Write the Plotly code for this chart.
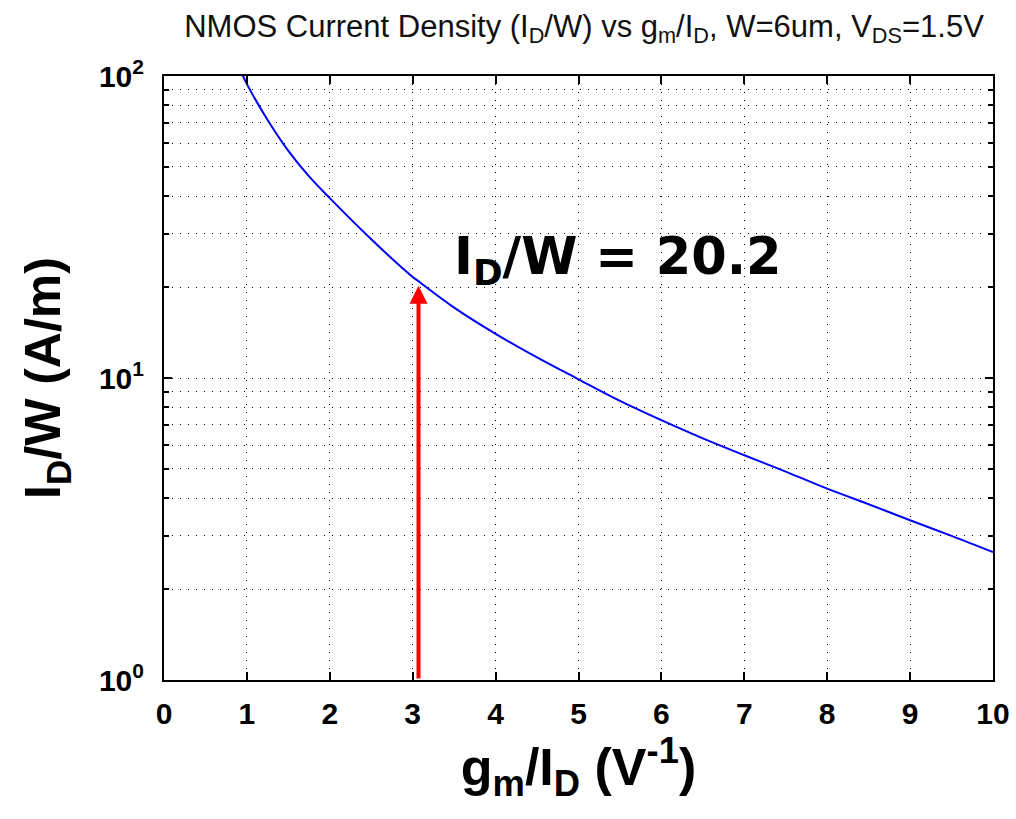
import math
import plotly.graph_objects as go

# Curve data (gm/ID in 1/V, ID/W in A/m)
gm_id = [0.95, 1.0, 1.25, 1.5, 1.75, 2.0, 2.5, 3.0, 3.07, 3.5, 4.0, 4.5, 5.0, 5.5, 6.0, 6.5, 7.0, 7.5, 8.0, 8.5, 9.0, 9.5, 10.0]
id_w = [100.5, 94.0, 71.5, 56.5, 46.5, 39.4, 28.8, 21.6, 20.9, 17.1, 14.0, 11.7, 9.9, 8.4, 7.25, 6.31, 5.55, 4.9, 4.3, 3.82, 3.38, 3.0, 2.65]

# Operating point
op_x = 3.07
op_y = 20.2
op_label = "I<sub>D</sub>/W = 20.2"

x_ticks = list(range(0, 11))
y_major = [1, 10, 100]
y_major_text = ["10<sup>0</sup>", "10<sup>1</sup>", "10<sup>2</sup>"]
y_minor = [m * d for d in (1, 10) for m in range(2, 10)]

fig = go.Figure()
fig.add_trace(go.Scatter(x=gm_id, y=id_w, mode="lines",
                         line=dict(color="#0000FF", width=2, shape="spline", smoothing=1.0),
                         showlegend=False))

grid_dash = "1px,7px"
tick_font = dict(family="Liberation Sans, Arial", size=30, color="black", weight="bold")
fig.update_xaxes(
    range=[0, 10], tickvals=x_ticks, ticktext=[str(v) for v in x_ticks],
    ticks="inside", ticklen=8, tickwidth=2, tickcolor="black",
    showline=True, linecolor="black", linewidth=2, mirror="allticks",
    showgrid=True, gridcolor="black", gridwidth=1, griddash=grid_dash,
    zeroline=False, tickfont=tick_font, ticklabelstandoff=6,
    ticklabeloverflow="allow", automargin=False,
    title=dict(text="<b>g<sub>m</sub>/I<sub>D</sub> (V<sup>-1</sup>)</b>",
               font=dict(family="Liberation Sans, Arial", size=52, color="black"),
               standoff=16),
)
fig.update_yaxes(
    type="log", range=[0, 2], tickvals=y_major, ticktext=y_major_text,
    ticks="inside", ticklen=8, tickwidth=2, tickcolor="black",
    showline=True, linecolor="black", linewidth=2, mirror="allticks",
    showgrid=True, gridcolor="black", gridwidth=1, griddash=grid_dash,
    minor=dict(tickvals=y_minor, ticks="inside", ticklen=5, tickwidth=2, tickcolor="black",
               showgrid=True, gridcolor="black", gridwidth=1, griddash=grid_dash),
    zeroline=False, tickfont=tick_font, ticklabelstandoff=12, automargin=False,
    title=dict(text="<b>I<sub>D</sub>/W (A/m)</b>",
               font=dict(family="Liberation Sans, Arial", size=50, color="black"),
               standoff=22),
)

fig.add_annotation(x=op_x, y=math.log10(op_y), xref="x", yref="y",
                   ax=op_x, ay=math.log10(1), axref="x", ayref="y",
                   showarrow=True, arrowhead=2, arrowsize=0.9, arrowwidth=4,
                   arrowcolor="#FF0000", text="")
fig.add_annotation(x=3.48, y=1.39, xref="x", yref="y", xanchor="left", yanchor="middle",
                   showarrow=False, text="<b>" + op_label + "</b>",
                   font=dict(family="DejaVu Sans", size=51, color="black"))

fig.update_layout(
    width=1016, height=819,
    margin=dict(l=164, r=23, t=76, b=139, autoexpand=False),
    paper_bgcolor="white", plot_bgcolor="white",
    title=dict(text="NMOS Current Density (I<sub>D</sub>/W) vs g<sub>m</sub>/I<sub>D</sub>, W=6um, V<sub>DS</sub>=1.5V",
               x=584 / 1016, xanchor="center", y=1 - 26 / 819, yanchor="middle", yref="container",
               font=dict(family="Liberation Sans, Arial", size=31, color="#111111")),
)

fig.write_html("out.html", config={"displayModeBar": False},
               post_script="document.body.style.margin='0';document.body.style.overflow='hidden';")
